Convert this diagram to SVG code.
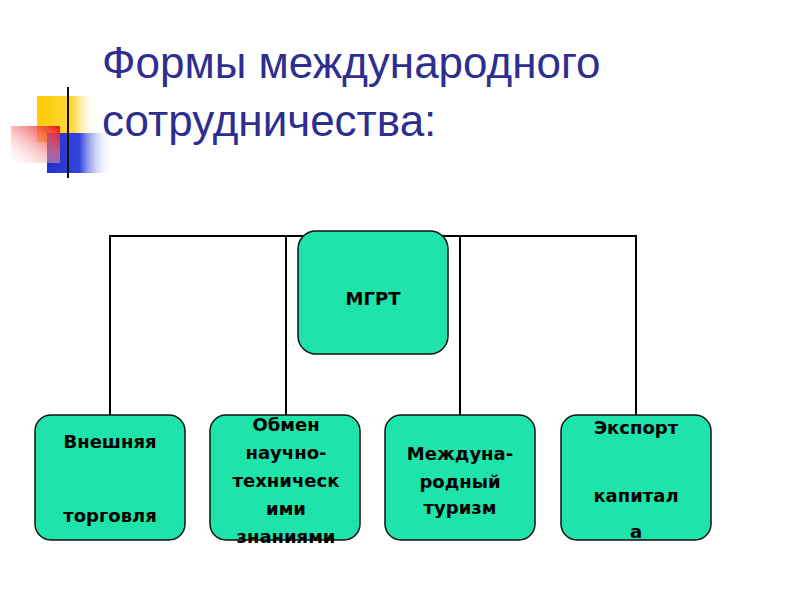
<svg xmlns="http://www.w3.org/2000/svg" width="800" height="600" viewBox="0 0 800 600">
<defs>
<linearGradient id="gy" x1="0" x2="1"><stop offset="0" stop-color="#ffcc00"/><stop offset="0.6" stop-color="#ffd640"/><stop offset="1" stop-color="#ffffff" stop-opacity="0"/></linearGradient>
<linearGradient id="gr" x1="1" x2="0" y1="0" y2="1"><stop offset="0" stop-color="#ee1111"/><stop offset="1" stop-color="#ffffff" stop-opacity="0.2"/></linearGradient>
<linearGradient id="gb" x1="0" x2="1"><stop offset="0" stop-color="#2233cc"/><stop offset="0.5" stop-color="#3344dd"/><stop offset="1" stop-color="#ffffff" stop-opacity="0"/></linearGradient>
<linearGradient id="gl" x1="0" x2="1"><stop offset="0" stop-color="#000"/><stop offset="0.6" stop-color="#333"/><stop offset="1" stop-color="#fff"/></linearGradient>
</defs>
<style>
.t{font-family:"Liberation Sans",Arial,sans-serif;font-size:44px;fill:#2e2e8e}
.n rect{fill:#1ee3aa;stroke:#111;stroke-width:1.5}
.n text{font-family:"DejaVu Sans",sans-serif;font-weight:bold;font-size:18px;fill:#000;text-anchor:middle}
.c{stroke:#000;stroke-width:2;fill:none}
</style>
<rect width="800" height="600" fill="#fff"/>
<rect x="37" y="96" width="60" height="46" fill="url(#gy)"/>
<rect x="47" y="133" width="65" height="40" fill="url(#gb)"/>
<rect x="11" y="126" width="49" height="37" fill="url(#gr)"/>
<line x1="68" y1="87" x2="68" y2="178" stroke="#111" stroke-width="2"/>
<line x1="40" y1="157" x2="760" y2="157" stroke="url(#gl)" stroke-width="2"/>
<text class="t" x="102" y="78">Формы международного</text>
<text class="t" x="102" y="136">сотрудничества:</text>
<g id="connectors" class="c">
<polyline points="110,416 110,236 636,236 636,416"/>
<line x1="286" y1="236" x2="286" y2="416"/>
<line x1="460" y1="236" x2="460" y2="416"/>
</g>
<g id="mgrt" class="n"><rect x="298" y="231" width="150" height="123" rx="18"/><text x="373" y="305" font-size="30px">МГРТ</text></g>
<g id="trade" class="n"><rect x="35" y="415" width="150" height="125" rx="16"/><text x="110" y="448">Внешняя</text><text x="110" y="522">торговля</text></g>
<g id="exchange" class="n"><rect x="210" y="415" width="150" height="125" rx="16"/><text x="286" y="431">Обмен</text><text x="286" y="459">научно-</text><text x="286" y="487">техническ</text><text x="286" y="515">ими</text><text x="286" y="543">знаниями</text></g>
<g id="tourism" class="n"><rect x="385" y="415" width="150" height="125" rx="16"/><text x="460" y="460">Междуна-</text><text x="460" y="488">родный</text><text x="460" y="514">туризм</text></g>
<g id="capital" class="n"><rect x="561" y="415" width="150" height="125" rx="16"/><text x="636" y="434">Экспорт</text><text x="636" y="502">капитал</text><text x="636" y="538">а</text></g>
</svg>
